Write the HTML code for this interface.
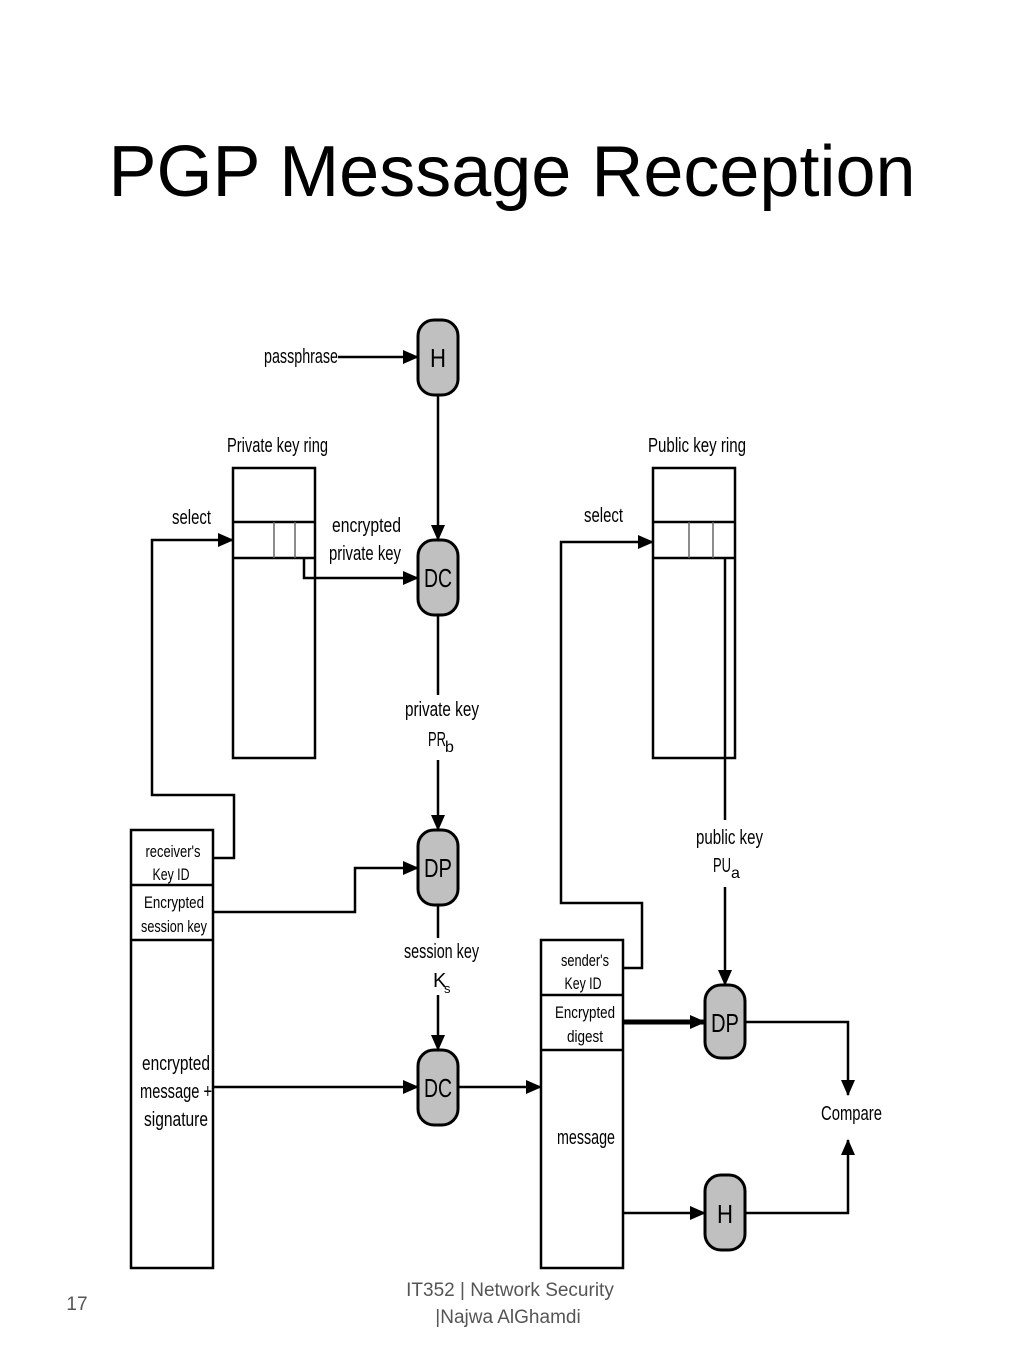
<!DOCTYPE html>
<html><head><meta charset="utf-8"><style>
html,body{margin:0;padding:0;background:#fff;width:1024px;height:1365px;overflow:hidden}
svg{display:block}
.t{font-family:"Liberation Sans",sans-serif;font-size:20px;fill:#000}
.n{font-family:"Liberation Sans",sans-serif;font-size:26px;fill:#000}
</style></head><body>
<svg width="1024" height="1365" viewBox="0 0 1024 1365" xmlns="http://www.w3.org/2000/svg">
<defs>
<marker id="a" markerWidth="10" markerHeight="10" refX="9" refY="5" orient="auto" markerUnits="userSpaceOnUse"><path d="M0,0 L10,5 L0,10z" fill="#000"/></marker>
<marker id="b" markerWidth="16" markerHeight="14" refX="15" refY="7" orient="auto" markerUnits="userSpaceOnUse"><path d="M0,0 L16,7 L0,14z" fill="#000"/></marker>
</defs>
<text x="512" y="196" text-anchor="middle" font-family="Liberation Sans,sans-serif" font-size="72">PGP Message Reception</text>

<g stroke="#000" stroke-width="2.5" fill="none">
<!-- private key ring -->
<rect x="233" y="468" width="82" height="290"/>
<line x1="233" y1="522" x2="315" y2="522"/><line x1="233" y1="558" x2="315" y2="558"/>
<line x1="274" y1="522" x2="274" y2="558" stroke="#666" stroke-width="1.5"/><line x1="295" y1="522" x2="295" y2="558" stroke="#666" stroke-width="1.5"/>
<!-- public key ring -->
<rect x="653" y="468" width="82" height="290"/>
<line x1="653" y1="522" x2="735" y2="522"/><line x1="653" y1="558" x2="735" y2="558"/>
<line x1="689" y1="522" x2="689" y2="558" stroke="#666" stroke-width="1.5"/><line x1="713" y1="522" x2="713" y2="558" stroke="#666" stroke-width="1.5"/>
<!-- left packet -->
<rect x="131" y="830" width="82" height="438"/>
<line x1="131" y1="885" x2="213" y2="885"/><line x1="131" y1="940" x2="213" y2="940"/>
<!-- right packet -->
<rect x="541" y="940" width="82" height="328"/>
<line x1="541" y1="995" x2="623" y2="995"/><line x1="541" y1="1050" x2="623" y2="1050"/>

<!-- connectors -->
<path d="M338,357 H418" marker-end="url(#b)"/>
<path d="M438,395 V540" marker-end="url(#b)"/>
<path d="M304,558 V578 H418" marker-end="url(#b)"/>
<path d="M438,615 V695"/><path d="M438,760 V830" marker-end="url(#b)"/>
<path d="M213,858 H234 V795 H152 V540 H233" marker-end="url(#b)"/>
<path d="M213,912 H355 V868 H418" marker-end="url(#b)"/>
<path d="M438,905 V938"/><path d="M438,995 V1050" marker-end="url(#b)"/>
<path d="M213,1087 H418" marker-end="url(#b)"/>
<path d="M458,1087 H541" marker-end="url(#b)"/>
<path d="M623,968 H642 V903 H561 V542 H653" marker-end="url(#b)"/>
<path d="M725,558 V820"/><path d="M725,887 V985" marker-end="url(#b)"/>
<path d="M623,1022 H705" stroke-width="5" marker-end="url(#b)"/>
<path d="M745,1022 H848 V1095" marker-end="url(#b)"/>
<path d="M623,1213 H705" marker-end="url(#b)"/>
<path d="M745,1213 H848 V1140" marker-end="url(#b)"/>
</g>

<g stroke="#000" stroke-width="3" fill="#c0c0c0">
<rect x="418" y="320" width="40" height="75" rx="16"/>
<rect x="418" y="540" width="40" height="75" rx="16"/>
<rect x="418" y="830" width="40" height="75" rx="16"/>
<rect x="418" y="1050" width="40" height="75" rx="16"/>
<rect x="705" y="985" width="40" height="73" rx="16"/>
<rect x="705" y="1175" width="40" height="75" rx="16"/>
</g>
<g class="n" text-anchor="middle">
<text x="438" y="367" textLength="16" lengthAdjust="spacingAndGlyphs">H</text>
<text x="438" y="587" textLength="28" lengthAdjust="spacingAndGlyphs">DC</text>
<text x="438" y="877" textLength="28" lengthAdjust="spacingAndGlyphs">DP</text>
<text x="438" y="1097" textLength="28" lengthAdjust="spacingAndGlyphs">DC</text>
<text x="725" y="1032" textLength="28" lengthAdjust="spacingAndGlyphs">DP</text>
<text x="725" y="1223" textLength="16" lengthAdjust="spacingAndGlyphs">H</text>
</g>

<g class="t">
<text x="264" y="363" textLength="74" lengthAdjust="spacingAndGlyphs">passphrase</text>
<text x="227" y="452" textLength="101" lengthAdjust="spacingAndGlyphs">Private key ring</text>
<text x="648" y="452" textLength="98" lengthAdjust="spacingAndGlyphs">Public key ring</text>
<text x="172" y="524" textLength="39" lengthAdjust="spacingAndGlyphs">select</text>
<text x="584" y="522" textLength="39" lengthAdjust="spacingAndGlyphs">select</text>
<text x="332" y="532" textLength="69" lengthAdjust="spacingAndGlyphs">encrypted</text>
<text x="329" y="560" textLength="72" lengthAdjust="spacingAndGlyphs">private key</text>
<text x="405" y="716" textLength="74" lengthAdjust="spacingAndGlyphs">private key</text>
<text x="428" y="746" textLength="18" lengthAdjust="spacingAndGlyphs">PR</text><text x="445" y="752" font-size="16">b</text>
<text x="696" y="844" textLength="67" lengthAdjust="spacingAndGlyphs">public key</text>
<text x="713" y="872" textLength="18" lengthAdjust="spacingAndGlyphs">PU</text><text x="731" y="878" font-size="16">a</text>
<text x="404" y="958" textLength="75" lengthAdjust="spacingAndGlyphs">session key</text>
<text x="433" y="987">K</text><text x="444" y="993" font-size="13">s</text>
<text x="821" y="1120" textLength="61" lengthAdjust="spacingAndGlyphs">Compare</text>
</g>
<g class="t" text-anchor="middle" font-size="17">
<text x="173" y="857" font-size="17" textLength="55" lengthAdjust="spacingAndGlyphs">receiver's</text>
<text x="171" y="880" font-size="17" textLength="37" lengthAdjust="spacingAndGlyphs">Key ID</text>
<text x="174" y="908" font-size="17" textLength="60" lengthAdjust="spacingAndGlyphs">Encrypted</text>
<text x="174" y="932" font-size="17" textLength="66" lengthAdjust="spacingAndGlyphs">session key</text>
<text x="176" y="1070" textLength="68" lengthAdjust="spacingAndGlyphs">encrypted</text>
<text x="176" y="1098" textLength="72" lengthAdjust="spacingAndGlyphs">message +</text>
<text x="176" y="1126" textLength="64" lengthAdjust="spacingAndGlyphs">signature</text>
<text x="585" y="966" font-size="17" textLength="48" lengthAdjust="spacingAndGlyphs">sender's</text>
<text x="583" y="989" font-size="17" textLength="37" lengthAdjust="spacingAndGlyphs">Key ID</text>
<text x="585" y="1018" font-size="17" textLength="60" lengthAdjust="spacingAndGlyphs">Encrypted</text>
<text x="585" y="1042" font-size="17" textLength="36" lengthAdjust="spacingAndGlyphs">digest</text>
<text x="586" y="1144" textLength="58" lengthAdjust="spacingAndGlyphs">message</text>
</g>

<g font-family="Liberation Sans,sans-serif" fill="#555" font-size="19">
<text x="77" y="1310" text-anchor="middle">17</text>
<text x="510" y="1296" text-anchor="middle">IT352 | Network Security</text>
<text x="508" y="1323" text-anchor="middle">|Najwa AlGhamdi</text>
</g>
</svg>
</body></html>
